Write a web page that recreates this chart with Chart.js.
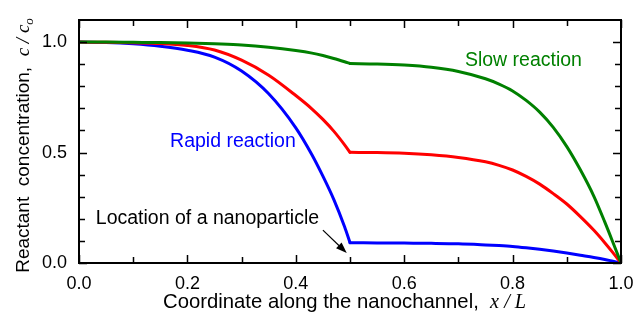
<!DOCTYPE html>
<html lang="en">
<head>
    <meta charset="UTF-8">
    <title>Reactant concentration along the nanochannel</title>
    <script src="https://cdn.jsdelivr.net/npm/chart.js"></script>
    <style>
        body {
            margin: 0;
            background: white;
        }
        canvas {
            display: block;
        }
    </style>
</head>
<body>
    <canvas id="chart" width="633" height="319"></canvas>
    <script>
        // x positions along the channel (x/L); the nanoparticle sits at 0.5
        const xPos = [0, 0.05, 0.1, 0.15, 0.2, 0.25, 0.3, 0.35, 0.4, 0.43, 0.45, 0.47, 0.49, 0.5,
                      0.55, 0.6, 0.65, 0.7, 0.75, 0.775, 0.8, 0.825, 0.85, 0.875, 0.9, 0.925, 0.95, 0.97, 0.985, 1.0];
        const particleX = 0.5;

        // c/co
        const rapid = [1.0, 0.998, 0.992, 0.981, 0.963, 0.932, 0.869, 0.766, 0.612, 0.489, 0.393, 0.288, 0.164, 0.092,
                       0.091, 0.090, 0.089, 0.087, 0.082, 0.079, 0.075, 0.069, 0.062, 0.054, 0.045, 0.035, 0.025, 0.016, 0.008, 0.0];
        const medium = [1.0, 0.999, 0.997, 0.994, 0.985, 0.964, 0.918, 0.850, 0.758, 0.697, 0.650, 0.597, 0.535, 0.501,
                        0.500, 0.497, 0.490, 0.478, 0.458, 0.442, 0.421, 0.392, 0.357, 0.314, 0.267, 0.210, 0.148, 0.092, 0.047, 0.0];
        const slow = [1.0, 1.0, 0.999, 0.998, 0.996, 0.992, 0.987, 0.977, 0.962, 0.950, 0.939, 0.926, 0.911, 0.903,
                      0.901, 0.896, 0.886, 0.867, 0.834, 0.810, 0.779, 0.736, 0.683, 0.614, 0.527, 0.422, 0.302, 0.186, 0.094, 0.0];

        // labelled ticks and the small ticks between them
        const xTicks = [0, 0.2, 0.4, 0.6, 0.8, 1.0];
        const yTicks = [0, 0.5, 1.0];
        const xMinor = [0.1, 0.3, 0.5, 0.7, 0.9];
        const yMinor = [0.1, 0.2, 0.3, 0.4, 0.6, 0.7, 0.8, 0.9];

        // annotation texts, anchored in data coordinates (left, baseline)
        const notes = [
            { text: "Slow reaction", x: 0.712, y: 0.894, color: "#008000" },
            { text: "Rapid reaction", x: 0.168, y: 0.525, color: "#0000ff" },
            { text: "Location of a nanoparticle", x: 0.031, y: 0.176, color: "black" }
        ];
        const arrowFrom = [0.450, 0.149];
        const arrowTo = [0.494, 0.045];

        function toPoints(ys, from, to) {
            const pts = [];
            xPos.forEach(function (x, i) {
                if (x >= from && x <= to) pts.push({ x: x, y: ys[i] });
            });
            return pts;
        }

        const framePlugin = {
            id: "frame",
            afterDraw: function (chart) {
                const ctx = chart.ctx;
                const a = chart.chartArea;
                const xs = chart.scales.x;
                const ys = chart.scales.y;
                ctx.save();

                // inward tick marks on all four sides
                ctx.strokeStyle = "#000000";
                ctx.lineWidth = 1.5;
                ctx.beginPath();
                function xTick(v, len) {
                    const px = Math.round(xs.getPixelForValue(v)) + 0.5;
                    ctx.moveTo(px, a.bottom);
                    ctx.lineTo(px, a.bottom - len);
                    ctx.moveTo(px, a.top);
                    ctx.lineTo(px, a.top + len);
                }
                function yTick(v, len) {
                    const py = Math.round(ys.getPixelForValue(v)) + 0.5;
                    ctx.moveTo(a.left, py);
                    ctx.lineTo(a.left + len, py);
                    ctx.moveTo(a.right, py);
                    ctx.lineTo(a.right - len, py);
                }
                xTicks.forEach(function (v) { xTick(v, 8); });
                xMinor.forEach(function (v) { xTick(v, 6); });
                yTicks.forEach(function (v) { yTick(v, 8); });
                yMinor.forEach(function (v) { yTick(v, 6); });
                ctx.stroke();

                // plot frame
                ctx.lineWidth = 2;
                ctx.strokeRect(a.left, a.top, a.right - a.left, a.bottom - a.top);

                // annotations
                ctx.font = '19.5px "Liberation Sans", Arial, sans-serif';
                ctx.textAlign = "left";
                ctx.textBaseline = "alphabetic";
                notes.forEach(function (n) {
                    ctx.fillStyle = n.color;
                    ctx.fillText(n.text, xs.getPixelForValue(n.x), ys.getPixelForValue(n.y));
                });

                // arrow to the nanoparticle location
                const x1 = xs.getPixelForValue(arrowFrom[0]), y1 = ys.getPixelForValue(arrowFrom[1]);
                const x2 = xs.getPixelForValue(arrowTo[0]), y2 = ys.getPixelForValue(arrowTo[1]);
                const ang = Math.atan2(y2 - y1, x2 - x1);
                ctx.strokeStyle = "black";
                ctx.fillStyle = "black";
                ctx.lineWidth = 1.2;
                ctx.beginPath();
                ctx.moveTo(x1, y1);
                ctx.lineTo(x2 - 8 * Math.cos(ang), y2 - 8 * Math.sin(ang));
                ctx.stroke();
                ctx.beginPath();
                ctx.moveTo(x2, y2);
                ctx.lineTo(x2 - 11 * Math.cos(ang) + 4 * Math.sin(ang), y2 - 11 * Math.sin(ang) - 4 * Math.cos(ang));
                ctx.lineTo(x2 - 11 * Math.cos(ang) - 4 * Math.sin(ang), y2 - 11 * Math.sin(ang) + 4 * Math.cos(ang));
                ctx.closePath();
                ctx.fill();

                // x axis title
                const sans = '20.3px "Liberation Sans", Arial, sans-serif';
                const serif = 'italic 20.3px "Liberation Serif", "Times New Roman", serif';
                ctx.fillStyle = "black";
                ctx.font = sans;
                const t1 = "Coordinate along the nanochannel,  ";
                const w1 = ctx.measureText(t1).width;
                ctx.font = serif;
                const w2 = ctx.measureText("x / L").width;
                let sx = a.left + (a.right - a.left) * 0.49 - (w1 + w2) / 2;
                ctx.font = sans;
                ctx.fillText(t1, sx, 308);
                ctx.font = serif;
                ctx.fillText("x / L", sx + w1, 308);

                // y axis title, rotated
                const ysans = '19px "Liberation Sans", Arial, sans-serif';
                const yserif = 'italic 19px "Liberation Serif", "Times New Roman", serif';
                const ysub = 'italic 13px "Liberation Serif", serif';
                ctx.translate(29, (a.top + a.bottom) / 2 + 4);
                ctx.rotate(-Math.PI / 2);
                ctx.font = ysans;
                const y1t = "Reactant  concentration,  ";
                const yw1 = ctx.measureText(y1t).width;
                ctx.font = yserif;
                const yw2 = ctx.measureText("c / c").width;
                ctx.font = ysub;
                const yw3 = ctx.measureText("o").width;
                sx = -(yw1 + yw2 + yw3) / 2;
                ctx.font = ysans;
                ctx.fillText(y1t, sx, 0);
                ctx.font = yserif;
                ctx.fillText("c / c", sx + yw1, 0);
                ctx.font = ysub;
                ctx.fillText("o", sx + yw1 + yw2, 4);

                ctx.restore();
            }
        };

        document.addEventListener("DOMContentLoaded", function () {
            const ctx = document.getElementById("chart").getContext("2d");

            // each profile is drawn as two smooth pieces that meet at the particle,
            // so the slope break there stays sharp
            function series(ys, color) {
                return [[0, particleX], [particleX, 1]].map(function (r) {
                    return {
                        data: toPoints(ys, r[0], r[1]),
                        borderColor: color,
                        borderWidth: 3,
                        borderCapStyle: "round",
                        pointRadius: 0,
                        showLine: true,
                        fill: false,
                        cubicInterpolationMode: "monotone"
                    };
                });
            }

            new Chart(ctx, {
                type: "scatter",
                data: {
                    datasets: [].concat(
                        series(slow, "#008000"),
                        series(medium, "#ff0000"),
                        series(rapid, "#0000ff")
                    )
                },
                options: {
                    responsive: false,
                    animation: false,
                    devicePixelRatio: 1,
                    layout: { padding: { left: 0, right: 12, top: 20, bottom: 0 } },
                    plugins: { legend: { display: false }, tooltip: { enabled: false } },
                    scales: {
                        x: {
                            type: "linear",
                            min: 0,
                            max: 1,
                            border: { display: false },
                            grid: { display: false, drawTicks: false },
                            afterFit: function (s) {
                                s.height = 56;
                                s.paddingLeft = 0;
                                s.paddingRight = 0;
                            },
                            afterBuildTicks: function (s) {
                                s.ticks = xTicks.map(function (v) { return { value: v }; });
                            },
                            ticks: {
                                padding: 10,
                                maxRotation: 0,
                                autoSkip: false,
                                color: "black",
                                font: { family: '"Liberation Sans", Arial, sans-serif', size: 18 },
                                callback: function (v) { return v.toFixed(1); }
                            }
                        },
                        y: {
                            type: "linear",
                            min: 0,
                            max: 1.1,
                            border: { display: false },
                            grid: { display: false, drawTicks: false },
                            afterFit: function (s) {
                                s.width = 79;
                                s.paddingTop = 0;
                                s.paddingBottom = 0;
                            },
                            afterBuildTicks: function (s) {
                                s.ticks = yTicks.map(function (v) { return { value: v }; });
                            },
                            ticks: {
                                padding: 12,
                                autoSkip: false,
                                color: "black",
                                font: { family: '"Liberation Sans", Arial, sans-serif', size: 18 },
                                callback: function (v) { return v.toFixed(1); }
                            }
                        }
                    }
                },
                plugins: [framePlugin]
            });
        });
    </script>
</body>
</html>
